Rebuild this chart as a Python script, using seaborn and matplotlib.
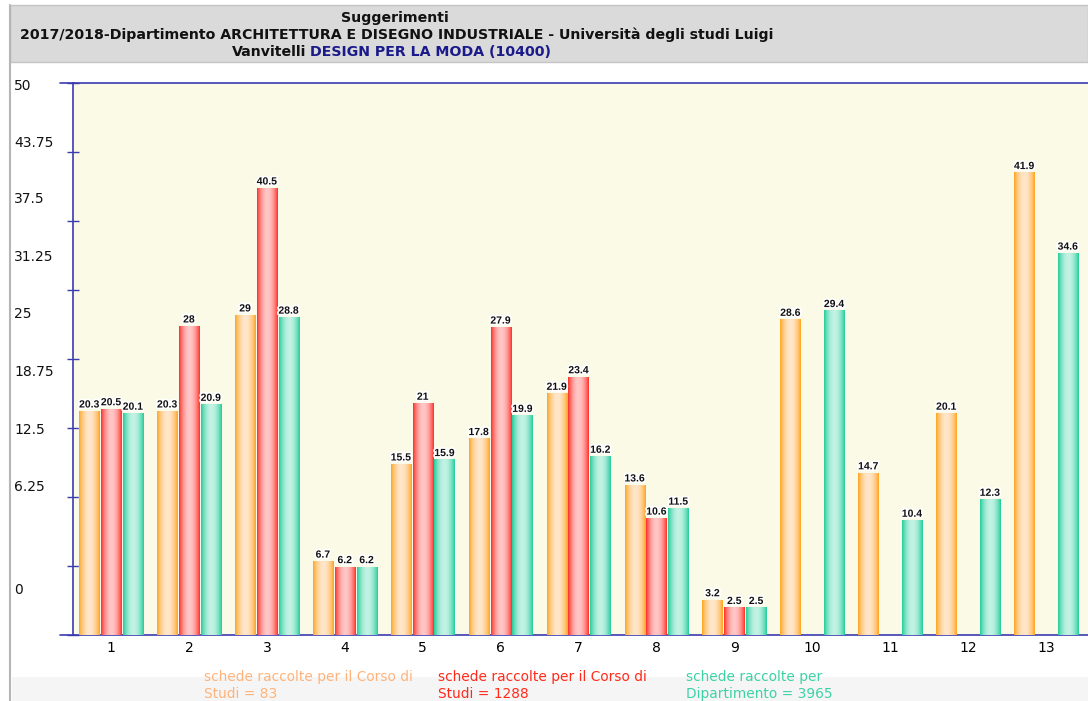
import matplotlib
matplotlib.use("Agg")
import matplotlib.pyplot as plt
import matplotlib.patheffects as pe
import numpy as np
import pandas as pd
import seaborn as sns
from matplotlib.colors import to_rgb
from matplotlib.lines import Line2D
from matplotlib.patches import Rectangle

# --- data ---
categories = [str(i) for i in range(1, 14)]
corso_83 = [20.3, 20.3, 29, 6.7, 15.5, 17.8, 21.9, 13.6, 3.2, 28.6, 14.7, 20.1, 41.9]
corso_1288 = [20.5, 28, 40.5, 6.2, 21, 27.9, 23.4, 10.6, 2.5,
              np.nan, np.nan, np.nan, np.nan]
dipartimento = [20.1, 20.9, 28.8, 6.2, 15.9, 19.9, 16.2, 11.5, 2.5, 29.4, 10.4, 12.3, 34.6]
series_names = ["schede raccolte per il Corso di\nStudi = 83",
                "schede raccolte per il Corso di\nStudi = 1288",
                "schede raccolte per\nDipartimento = 3965"]
y_ticks = [0, 6.25, 12.5, 18.75, 25, 31.25, 37.5, 43.75, 50]
y_tick_labels = ["0", "6.25", "12.5", "18.75", "25", "31.25", "37.5", "43.75", "50"]

title_1 = "Suggerimenti"
title_2 = "2017/2018-Dipartimento ARCHITETTURA E DISEGNO INDUSTRIALE - Università degli studi Luigi"
title_3a = "Vanvitelli"
title_3b = "DESIGN PER LA MODA (10400)"

df = pd.DataFrame({
    "domanda": categories * 3,
    "valore": corso_83 + corso_1288 + dipartimento,
    "serie": [s for s in series_names for _ in categories],
})

# --- styling ---
edge_cols = ["#ffa21c", "#ff2a22", "#1fcb98"]
light_cols = ["#ffe6ca", "#ffc6c6", "#c2f2e4"]
text_cols = ["#ffb37a", "#ff2a1a", "#3dd2a6"]
axis_blue = "#3b3bb0"

W, H = 1088, 701
sns.set_theme(style="white")
plt.rcParams["font.family"] = ["DejaVu Sans"]

fig = plt.figure(figsize=(W / 100, H / 100), dpi=100)
fig.patch.set_facecolor("white")
ax = fig.add_axes([73 / W, 1 - 635 / H, 1 - 73 / W, (635 - 83) / H])
ax.set_facecolor("#fafae6")

sns.barplot(data=df, x="domanda", y="valore", hue="serie", order=categories,
            hue_order=series_names, palette=edge_cols, saturation=1,
            width=0.84, gap=0.08, legend=False, ax=ax, zorder=2)

# gradient fill of each bar (dark edges, light centre)
t = np.linspace(0, 1, 64)
shade = np.sin(np.pi * t) ** 0.8
for cont, ec, lc in zip(ax.containers, edge_cols, light_cols):
    e, l = np.array(to_rgb(ec)), np.array(to_rgb(lc))
    grad = (e[None, :] * (1 - shade[:, None]) + l[None, :] * shade[:, None])[None, :, :]
    for bar in cont:
        h = bar.get_height()
        if not np.isfinite(h) or h <= 0:
            continue
        x0, w = bar.get_x(), bar.get_width()
        im = ax.imshow(grad, extent=[x0, x0 + w, 0, h], aspect="auto",
                       interpolation="bilinear", zorder=3)
        im.set_clip_path(bar)
    ax.bar_label(cont, labels=[f"{v:g}" for v in cont.datavalues if np.isfinite(v)],
                 padding=1, fontsize=7.5, fontweight="bold", color="#111111",
                 family=["Liberation Sans", "DejaVu Sans"], zorder=5,
                 path_effects=[pe.withStroke(linewidth=2.5, foreground="white")])

ax.set_xlim(-0.488, 12.54)
ax.set_ylim(0, 50)
ax.set_aspect("auto")
ax.set_xlabel("")
ax.set_ylabel("")
ax.set_yticks(y_ticks, labels=[""] * len(y_ticks))
ax.tick_params(axis="y", direction="inout", length=9, width=1, color=axis_blue, left=True)
ax.tick_params(axis="x", length=0, pad=4, labelsize=10, labelcolor="black")
for side in ["left", "top", "bottom"]:
    ax.spines[side].set_color(axis_blue)
    ax.spines[side].set_linewidth(1.2)
ax.spines["right"].set_visible(False)

# y labels sit where the original renderer put them (offset from the ticks)
label_rows_px = [590, 487, 430, 372, 314, 257, 199, 143, 86]
for lab, py in zip(y_tick_labels, label_rows_px):
    fig.text(14 / W, 1 - py / H, lab, ha="left", va="center", fontsize=10, color="#111111")

# short stubs of top/bottom axis lines left of the spine
for py in (83, 635):
    fig.add_artist(Line2D([60 / W, 74 / W], [1 - py / H, 1 - py / H],
                          color=axis_blue, lw=1.2))

# title box and page frame
fig.add_artist(Rectangle((10 / W, 1 - 62 / H), 1 - 10 / W, 57 / H,
                         facecolor="#dadada", edgecolor="#c4c4c4", lw=1, zorder=0))
fig.add_artist(Line2D([10 / W, 10 / W], [0, 1 - 5 / H], color="#b5b5b5", lw=1.5))
fig.add_artist(Rectangle((12 / W, 0), 1 - 12 / W, 24 / H,
                         facecolor="#f5f5f5", edgecolor="none", zorder=0))

tkw = dict(fontsize=10.2, fontweight="bold", color="#111111", va="center")
fig.text(395 / W, 1 - 18 / H, title_1, ha="center", **tkw)
fig.text(397 / W, 1 - 35 / H, title_2, ha="center", **tkw)
t3 = fig.text(232 / W, 1 - 52 / H, title_3a, ha="left", **tkw)
ax.annotate(title_3b, xy=(1, 0.5), xycoords=t3, xytext=(4, 0), textcoords="offset pixels",
            ha="left", va="center", fontsize=10.2, fontweight="bold", color="#1a1a8a",
            annotation_clip=False)

# legend as coloured text beneath the axis
for name, col, px in zip(series_names, text_cols, [204, 438, 686]):
    fig.text(px / W, 1 - 670 / H, name, ha="left", va="top", fontsize=9.9,
             color=col, linespacing=1.25)

fig.savefig("out.png", dpi=100)
